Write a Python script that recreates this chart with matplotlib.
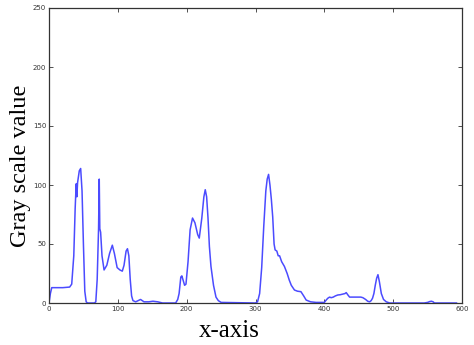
import matplotlib
matplotlib.use("Agg")
import matplotlib.pyplot as plt

# Gray scale profile along the x-axis
x_pos = [0, 2, 4, 10, 20, 30, 33, 36, 38, 39.5, 40.5, 41.5, 44, 46, 48, 50, 52, 54, 56,
         66, 68, 70, 72, 73, 73.8, 75, 77, 80, 84, 88, 92, 95, 99, 103, 106.5, 109, 112,
         114, 116, 118, 120, 122, 126, 133, 138, 145, 151, 158, 165, 184, 187, 189, 191.5,
         193, 197, 199, 202, 205, 208.5, 212, 216, 218.3, 222, 225, 227, 229, 231, 233,
         235.3, 239, 242.6, 246, 250, 300, 303, 306, 309, 312, 315, 317, 319, 321, 323,
         325, 327, 328.5, 331, 333, 335, 338, 342, 346, 349, 352, 356.6, 361, 366, 370,
         373.6, 380, 388, 400, 402.7, 405, 407.6, 410, 413, 416, 419.6, 423, 427, 430,
         431.8, 434, 436.7, 442, 448.8, 453, 456, 460, 463, 465.8, 468, 470, 472, 474,
         476, 477.9, 480, 482.8, 486, 490, 495, 545, 550, 553, 555.6, 558, 560, 592]
gray = [0, 8, 13, 13, 13, 13.5, 16, 40, 80, 101, 90, 102, 112, 114, 95, 50, 10, 1, 0,
        0, 1, 20, 63, 105, 63, 60, 40, 28, 32, 42, 49, 42, 30, 28, 27, 32, 44,
        46, 40, 20, 6, 2, 1, 3, 1, 1, 1.5, 1, 0, 0, 3, 8, 22,
        23, 15, 16, 35, 62, 72, 68, 58, 55, 72, 90, 96, 90, 72, 48,
        31, 15, 5, 2, 0.5, 0, 1, 8, 30, 65, 95, 105, 109, 100, 88,
        73, 50, 45, 44, 40, 40, 35, 31, 25, 19.5, 15, 11, 10, 9.6, 6,
        2.5, 1, 0.5, 0.5, 2.5, 4, 5, 4.5, 5, 6, 6.8, 7, 7.6, 8,
        8.8, 7, 5, 5, 5, 5, 4.5, 3, 1.5, 1, 2, 4, 8, 15,
        21, 24, 18, 8, 3, 1, 0, 0, 0.5, 1.2, 1.5, 1, 0, 0]

x_ticks = [0, 100, 200, 300, 400, 500, 600]
y_ticks = [0, 50, 100, 150, 200, 250]

fig = plt.figure(figsize=(4.74, 3.45), dpi=100)
ax = fig.add_axes([49 / 474, 42 / 345, 413 / 474, 295 / 345])
ax.plot(x_pos, gray, color="#4b4bff", lw=1.1)
ax.set_xlim(0, 600)
ax.set_ylim(0, 250)
ax.set_xticks(x_ticks)
ax.set_yticks(y_ticks)
ax.tick_params(direction="in", length=3, width=0.6, labelsize=5, pad=2,
               top=True, right=True, colors="#333333")
for sp in ax.spines.values():
    sp.set_linewidth(0.9)
    sp.set_color("#333333")

fig.text(229 / 474, 8 / 345, "x-axis", family="Liberation Serif", fontsize=18,
         ha="center", va="baseline")
fig.text(21 / 474, 1 - 166 / 345, "Gray scale value", family="Liberation Serif",
         fontsize=17.5, rotation=90, ha="center", va="center")

fig.savefig("out.png", dpi=100)
